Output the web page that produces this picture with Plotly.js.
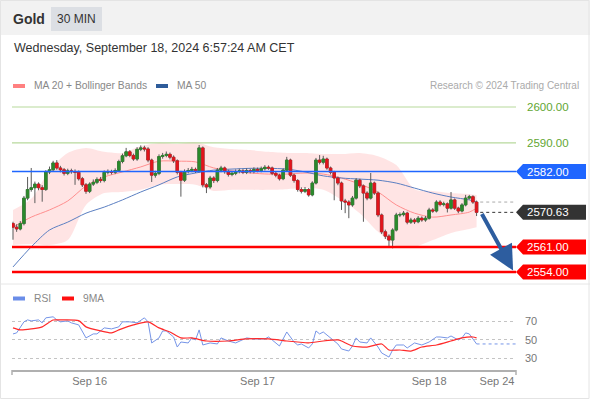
<!DOCTYPE html>
<html><head><meta charset="utf-8">
<script src="https://cdn.plot.ly/plotly-3.0.1.min.js"></script>
<style>html,body{margin:0;padding:0;background:#fff;}#chart{width:590px;height:400px;}</style>
</head><body><div id="chart"></div>
<script>
// ---- data (30-min candles, Gold) ----
const openP = [2567.5,2566.5,2566.0,2567.5,2574.6,2577.0,2577.5,2578.5,2577.5,2577.0,
2581.9,2582.5,2584.4,2583.0,2582.5,2581.5,2582.2,2582.0,2581.8,2580.0,
2578.3,2576.5,2578.5,2579.0,2579.8,2579.5,2581.8,2582.0,2581.8,2582.3,
2584.8,2586.4,2587.5,2586.5,2585.5,2588.2,2588.6,2588.3,2585.2,2581.0,
2581.5,2586.2,2586.5,2586.8,2586.0,2585.0,2581.8,2579.6,2582.0,2582.3,
2582.6,2582.2,2588.6,2578.3,2577.7,2580.2,2579.5,2582.4,2583.0,2582.0,
2581.2,2581.5,2582.0,2582.2,2581.8,2582.3,2582.0,2582.6,2582.3,2582.8,
2583.2,2583.0,2581.5,2581.0,2580.0,2582.4,2585.2,2581.0,2579.5,2577.0,
2576.5,2577.0,2575.5,2578.8,2585.2,2584.6,2585.5,2583.0,2581.8,2580.2,
2578.8,2573.8,2573.5,2572.7,2574.6,2579.6,2578.0,2576.0,2574.6,2578.8,
2576.0,2569.9,2565.2,2564.0,2562.9,2565.7,2569.9,2570.0,2570.4,2567.9,
2568.5,2568.0,2569.0,2568.5,2569.0,2571.3,2571.0,2573.5,2572.8,2573.0,
2571.8,2574.1,2571.8,2571.0,2572.7,2574.6,2575.0,2573.5];
const highP = [2568.0,2567.3,2568.2,2575.2,2580.5,2583.0,2579.2,2579.0,2578.2,2582.4,
2583.4,2585.0,2585.2,2583.6,2583.0,2582.8,2582.8,2582.6,2582.3,2580.5,
2578.8,2579.0,2579.8,2580.4,2580.5,2582.3,2582.6,2582.5,2582.9,2585.3,
2587.0,2588.6,2588.0,2587.0,2588.8,2589.3,2589.2,2588.8,2585.6,2582.2,
2586.8,2587.2,2587.6,2587.3,2586.5,2585.4,2582.2,2582.6,2583.0,2583.3,
2583.1,2589.4,2589.0,2578.8,2580.8,2580.7,2583.0,2583.6,2583.4,2582.5,
2582.1,2582.6,2582.8,2582.7,2582.9,2582.8,2583.2,2583.1,2583.4,2583.8,
2583.7,2583.4,2582.0,2581.4,2582.9,2586.1,2585.6,2581.4,2579.9,2577.6,
2577.7,2577.4,2579.3,2585.8,2586.6,2586.4,2585.9,2583.4,2582.2,2580.6,
2579.2,2574.4,2574.0,2575.2,2580.2,2580.0,2578.4,2576.5,2581.6,2579.2,
2576.4,2570.3,2565.8,2564.5,2566.2,2570.5,2570.6,2571.0,2570.8,2569.1,
2569.0,2569.6,2569.5,2569.6,2571.9,2571.8,2574.0,2574.0,2573.6,2573.4,
2576.3,2574.5,2572.2,2573.2,2575.5,2575.5,2575.4,2573.9];
const lowP = [2563.0,2565.2,2565.6,2567.0,2574.0,2576.4,2573.2,2576.8,2573.6,2576.6,
2581.3,2582.0,2582.5,2581.8,2580.9,2581.0,2581.4,2578.3,2579.5,2577.7,
2575.8,2576.0,2578.0,2578.5,2578.9,2579.0,2581.2,2581.2,2581.3,2582.0,
2584.3,2586.0,2586.0,2585.0,2585.0,2587.7,2587.6,2584.6,2579.1,2580.3,
2581.0,2585.6,2586.0,2585.4,2584.4,2581.2,2575.0,2579.1,2581.5,2581.8,
2581.6,2581.7,2577.6,2576.0,2577.2,2578.8,2579.0,2581.8,2581.4,2580.6,
2580.7,2581.0,2581.5,2581.3,2581.3,2581.5,2581.5,2581.8,2581.8,2582.3,
2582.5,2581.0,2580.4,2579.5,2579.6,2582.0,2580.5,2578.9,2576.4,2575.9,
2576.0,2575.0,2575.1,2578.4,2584.0,2584.0,2582.5,2581.2,2574.0,2578.2,
2571.3,2570.4,2569.0,2572.2,2574.2,2577.4,2568.0,2574.0,2574.2,2575.5,
2569.3,2564.6,2563.2,2561.0,2560.6,2565.3,2569.3,2569.5,2567.3,2567.4,
2567.4,2567.6,2568.0,2568.0,2568.6,2570.5,2570.6,2572.3,2572.3,2570.6,
2571.4,2571.3,2570.4,2570.6,2572.3,2574.2,2573.0,2569.6];
const closeP = [2566.5,2566.0,2567.5,2574.6,2577.0,2577.5,2578.5,2577.5,2577.0,2581.9,
2582.5,2584.4,2583.0,2582.5,2581.5,2582.2,2582.0,2581.8,2580.0,2578.3,
2576.5,2578.5,2579.0,2579.8,2579.5,2581.8,2582.0,2581.8,2582.3,2584.8,
2586.4,2587.5,2586.5,2585.5,2588.2,2588.6,2588.3,2585.2,2581.0,2581.5,
2586.2,2586.5,2586.8,2586.0,2585.0,2581.8,2579.6,2582.0,2582.3,2582.6,
2582.2,2588.6,2578.3,2577.7,2580.2,2579.5,2582.4,2583.0,2582.0,2581.2,
2581.5,2582.0,2582.2,2581.8,2582.3,2582.0,2582.6,2582.3,2582.8,2583.2,
2583.0,2581.5,2581.0,2580.0,2582.4,2585.2,2581.0,2579.5,2577.0,2576.5,
2577.0,2575.5,2578.8,2585.2,2584.6,2585.5,2583.0,2581.8,2580.2,2578.8,
2573.8,2573.5,2572.7,2574.6,2579.6,2578.0,2576.0,2574.6,2578.8,2576.0,
2569.9,2565.2,2564.0,2562.9,2565.7,2569.9,2570.0,2570.4,2567.9,2568.5,
2568.0,2569.0,2568.5,2569.0,2571.3,2571.0,2573.5,2572.8,2573.0,2571.8,
2574.1,2571.8,2571.0,2572.7,2574.6,2575.0,2573.5,2570.63];

// indicator samples (candle index -> value)
const bandIdx = [0,5,10,15,20,25,30,35,40,45,50,55,60,65,70,75,80,85,90,95,100,105,110,115,120,125,127];
const ma50 = [2555.4,2561.0,2565.7,2567.9,2570.4,2572.1,2574.1,2576.3,2578.3,2580.5,2581.6,2582.4,2582.7,2582.9,2582.9,2582.7,2581.9,2580.8,2580.2,2579.9,2579.6,2578.8,2577.4,2576.0,2574.9,2574.1,2573.5];
const ma20 = [2566.5,2569.3,2571.3,2573.8,2578.0,2580.5,2581.9,2583.3,2584.9,2584.9,2584.7,2583.0,2582.2,2581.6,2581.3,2581.3,2581.6,2581.3,2580.2,2578.5,2576.3,2572.7,2570.4,2569.3,2569.9,2570.7,2571.8];
const bbUpper = [2571.3,2574.4,2582.4,2587.2,2588.6,2587.5,2587.2,2589.1,2590.0,2589.7,2590.2,2588.8,2588.3,2588.0,2587.5,2587.2,2587.2,2586.9,2586.9,2587.2,2586.3,2583.8,2577.1,2576.6,2576.0,2575.7,2575.5];
const bbLower = [2561.5,2561.8,2561.5,2562.9,2572.7,2576.0,2576.3,2576.9,2578.3,2578.5,2578.3,2576.6,2576.9,2576.9,2576.9,2577.1,2577.4,2576.9,2574.1,2570.4,2565.2,2561.2,2561.0,2562.9,2564.9,2566.0,2566.5];

const rsiIdx = [0,1,3,4,5,7,8,9,11,12,13,15,16,18,20,22,23,25,27,29,30,32,34,36,37,38,40,41,42,44,45,46,48,49,50,51,52,54,56,57,59,61,64,66,69,70,71,73,75,77,78,79,81,82,83,84,85,87,89,90,92,93,94,95,97,98,100,101,103,104,105,107,108,110,112,114,116,117,119,120,122,123,124,125,127];
const rsiVal = [56.5,57.6,69.5,71.6,70.5,71.6,68.4,73.8,74.9,71.6,69.5,70.5,68.4,66.2,52.2,56.5,56.5,63.0,61.9,64.1,69.5,69.5,68.4,73.8,69.5,46.8,52.2,59.7,59.7,53.2,42.4,47.8,46.8,52.2,50.0,60.8,44.6,46.8,45.7,52.2,48.9,46.8,52.2,51.1,51.1,53.2,50.0,43.5,58.6,47.8,44.6,45.7,41.4,45.7,59.7,56.5,58.6,52.2,45.7,40.3,38.1,43.5,52.2,47.8,46.8,52.2,42.4,36.0,31.6,39.2,44.6,44.6,41.4,46.8,44.6,47.8,53.2,53.2,52.2,54.3,50.0,52.2,57.6,56.5,45.7];
const ma9Idx = [0,2,5,8,11,13,18,20,24,27,29,33,37,40,43,46,49,53,59,64,70,75,78,81,85,89,90,93,97,101,103,106,109,112,116,120,123,126,127];
const ma9Val = [63.0,60.8,61.9,64.1,71.5,71.5,70.8,64.1,59.7,57.6,60.8,66.2,69.5,63.0,58.6,52.2,52.2,48.9,48.9,51.1,51.1,48.9,47.8,46.8,48.9,50.0,48.9,43.5,42.4,45.7,39.2,39.2,38.1,42.4,44.6,48.9,52.2,53.2,52.2];

const levelPrices = [2600, 2590, 2582, 2561, 2554];
const lastPrice = 2570.63;
const targetPrice = 2554;
const tickIdx = [21, 67, 114, 132.6];
const tickText = ['Sep 16', 'Sep 17', 'Sep 18', 'Sep 24'];
const rsiTicks = [30, 50, 70];

// ---- geometry helpers ----
const W = 590, H = 400;
const px = x => x / W;
const py = y => 1 - y / H;
const X0 = 12, X1 = 516;
const xRange = [-0.27, 137.8];
const yRange = [2550.93, 2603.35];
const y2Range = [17.7, 87.6];
const FONT = 'Liberation Sans, Arial, sans-serif';

const idx = closeP.map((_, i) => i);
const bodyHigh = openP.map((o, i) => Math.max(o, closeP[i]));
const bodyLow = openP.map((o, i) => Math.min(o, closeP[i]));
const N = closeP.length;

const GREEN = '#2b8a2b', RED = '#e3141b';
const traces = [
  {x: bandIdx, y: bbLower, xaxis: 'x', yaxis: 'y', mode: 'lines', line: {width: 0, shape: 'spline', smoothing: 0.8}, hoverinfo: 'skip'},
  {x: bandIdx, y: bbUpper, xaxis: 'x', yaxis: 'y', mode: 'lines', fill: 'tonexty', fillcolor: 'rgba(255,120,120,0.2)', line: {width: 0, shape: 'spline', smoothing: 0.8}, hoverinfo: 'skip'},
  {x: bandIdx, y: ma20, xaxis: 'x', yaxis: 'y', mode: 'lines', line: {color: '#ff8f8f', width: 1, shape: 'spline', smoothing: 0.8}},
  {x: bandIdx, y: ma50, xaxis: 'x', yaxis: 'y', mode: 'lines', line: {color: '#5b7fc2', width: 1, shape: 'spline', smoothing: 0.8}},
  {type: 'candlestick', x: idx, open: openP, high: highP, low: lowP, close: closeP, xaxis: 'x', yaxis: 'y3', whiskerwidth: 0,
   increasing: {line: {color: '#5a5a5a', width: 1}, fillcolor: '#5a5a5a'},
   decreasing: {line: {color: '#5a5a5a', width: 1}, fillcolor: '#5a5a5a'}},
  {type: 'candlestick', x: idx, open: openP, high: bodyHigh, low: bodyLow, close: closeP, xaxis: 'x', yaxis: 'y3', whiskerwidth: 0,
   increasing: {line: {color: GREEN, width: 0.6}, fillcolor: GREEN},
   decreasing: {line: {color: RED, width: 0.6}, fillcolor: RED}},
  {x: rsiIdx, y: rsiVal, xaxis: 'x2', yaxis: 'y2', mode: 'lines', line: {color: '#7695e8', width: 1}},
  {x: [rsiIdx[rsiIdx.length - 1], xRange[1]], y: [rsiVal[rsiVal.length - 1], rsiVal[rsiVal.length - 1]], xaxis: 'x2', yaxis: 'y2', mode: 'lines', line: {color: '#7695e8', width: 1, dash: 'dot'}},
  {x: ma9Idx, y: ma9Val, xaxis: 'x2', yaxis: 'y2', mode: 'lines', line: {color: '#ff2a2a', width: 1.2, shape: 'spline', smoothing: 0.6}}
];

const shapes = [];
const annotations = [];
// header
shapes.push({type: 'rect', xref: 'paper', yref: 'paper', x0: 0, x1: 1, y0: py(35), y1: 1, fillcolor: '#f2f2f2', line: {width: 0}, layer: 'below'});
shapes.push({type: 'rect', xref: 'paper', yref: 'paper', x0: px(51), x1: px(102), y0: py(31), y1: py(7), fillcolor: '#dcdfe4', line: {width: 0}, layer: 'below'});
// panel separator and frame
shapes.push({type: 'line', xref: 'paper', yref: 'paper', x0: 0, x1: 1, y0: py(284), y1: py(284), line: {color: '#e6e6e6', width: 1}});
shapes.push({type: 'rect', xref: 'paper', yref: 'paper', x0: px(0.5), x1: px(589), y0: py(398.5), y1: py(0.5), line: {color: '#e4e4e4', width: 1}});
// axis end ticks
[X0, X1].forEach(xx => shapes.push({type: 'line', xref: 'paper', yref: 'paper', x0: px(xx), x1: px(xx), y0: py(370), y1: py(375), line: {color: '#b0b0b0', width: 1.5}}));

annotations.push({xref: 'paper', yref: 'paper', x: px(11), y: py(19), xanchor: 'left', yanchor: 'middle', text: '<b>Gold</b>', showarrow: false, font: {family: FONT, size: 14, color: '#333'}});
annotations.push({xref: 'paper', yref: 'paper', x: px(76.5), y: py(19), xanchor: 'center', yanchor: 'middle', text: '30 MIN', showarrow: false, font: {family: FONT, size: 12, color: '#333'}});
annotations.push({xref: 'paper', yref: 'paper', x: px(12), y: py(48), xanchor: 'left', yanchor: 'middle', text: 'Wednesday, September 18, 2024 6:57:24 AM CET', showarrow: false, font: {family: FONT, size: 12.5, color: '#333'}});

// legends
const legendItems = [
  {x: 13, y: 86, color: '#ff8080', text: 'MA 20 + Bollinger Bands'},
  {x: 156, y: 86, color: '#2e5c9a', text: 'MA 50'},
  {x: 13, y: 298.5, color: '#6a8de8', text: 'RSI'},
  {x: 62, y: 298.5, color: '#ff1010', text: '9MA'}
];
legendItems.forEach(it => {
  shapes.push({type: 'rect', xref: 'paper', yref: 'paper', x0: px(it.x), x1: px(it.x + 12), y0: py(it.y + 2), y1: py(it.y - 2), fillcolor: it.color, line: {width: 0}});
  annotations.push({xref: 'paper', yref: 'paper', x: px(it.x + 19), y: py(it.y), xanchor: 'left', yanchor: 'middle', text: it.text, showarrow: false, font: {family: FONT, size: 10.3, color: '#888'}});
});
annotations.push({xref: 'paper', yref: 'paper', x: px(581), y: py(86), xanchor: 'right', yanchor: 'middle', text: 'Research © 2024 Trading Central', showarrow: false, font: {family: FONT, size: 10, color: '#aaa'}});

// price levels
const levelStyle = [
  {line: '#b7d99c', w: 1.2, tag: null, txt: '#62a632'},
  {line: '#b7d99c', w: 1.2, tag: null, txt: '#62a632'},
  {line: '#1f66ff', w: 1.5, tag: '#1f66ff', txt: '#fff'},
  {line: '#ff0000', w: 2.5, tag: '#ff0000', txt: '#fff'},
  {line: '#ff0000', w: 2.5, tag: '#ff0000', txt: '#fff'}
];
const half = 7.5 / 3.587;
function tag(p, color) {
  const xt = px(516), xb = px(523), xe = px(586);
  shapes.push({type: 'path', xref: 'paper', yref: 'y', path: `M ${xt},${p} L ${xb},${p + half} L ${xe},${p + half} L ${xe},${p - half} L ${xb},${p - half} Z`, fillcolor: color, line: {width: 0}});
}
levelPrices.forEach((p, k) => {
  const s = levelStyle[k];
  shapes.push({type: 'line', xref: 'paper', yref: 'y', x0: px(X0), x1: px(X1), y0: p, y1: p, line: {color: s.line, width: s.w}});
  if (s.tag) tag(p, s.tag);
  annotations.push({xref: 'paper', yref: 'y', x: px(525), y: p, xanchor: 'left', yanchor: 'middle', text: p.toFixed(2), showarrow: false, font: {family: FONT, size: 11.5, color: s.txt}});
});
// last price
shapes.push({type: 'line', xref: 'x', yref: 'y', x0: N - 1 + 1, x1: xRange[1], y0: lastPrice, y1: lastPrice, line: {color: '#333', width: 1, dash: 'dot'}});
shapes.push({type: 'line', xref: 'x', yref: 'y', x0: N - 1 + 1, x1: xRange[1], y0: ma50[ma50.length - 1], y1: ma50[ma50.length - 1], line: {color: '#aaa', width: 1, dash: 'dot'}});
tag(lastPrice, '#333333');
annotations.push({xref: 'paper', yref: 'y', x: px(525), y: lastPrice, xanchor: 'left', yanchor: 'middle', text: lastPrice.toFixed(2), showarrow: false, font: {family: FONT, size: 11.5, color: '#fff'}});

// forecast arrow
annotations.push({xref: 'x', yref: 'y', x: 137, y: targetPrice + 0.4, ax: -32, ay: -58, text: '', showarrow: true, arrowhead: 2, arrowsize: 1.25, arrowwidth: 4, arrowcolor: '#2d5d9f'});

const layout = {
  width: W, height: H, margin: {l: 0, r: 0, t: 0, b: 0},
  paper_bgcolor: '#fff', plot_bgcolor: 'rgba(0,0,0,0)',
  showlegend: false, hovermode: false,
  font: {family: FONT},
  boxgap: 0.3, boxgroupgap: 0,
  xaxis: {domain: [px(X0), px(X1)], range: xRange, anchor: 'y', visible: false, rangeslider: {visible: false}, fixedrange: true},
  yaxis: {domain: [py(283), py(95)], range: yRange, visible: false, fixedrange: true},
  yaxis3: {overlaying: 'y', range: yRange, visible: false, fixedrange: true},
  xaxis2: {domain: [px(X0), px(X1)], range: xRange, anchor: 'y2', showline: true, linecolor: '#b0b0b0', linewidth: 2,
    tickmode: 'array', tickvals: tickIdx, ticktext: tickText, ticks: '', showgrid: false, zeroline: false,
    tickfont: {family: FONT, size: 11, color: '#777'}, rangeslider: {visible: false}},
  yaxis2: {domain: [py(370), py(305)], range: y2Range, anchor: 'x2', side: 'right', tickmode: 'array', tickvals: rsiTicks,
    showgrid: true, gridcolor: '#c4c4c4', griddash: 'dot', gridwidth: 1, zeroline: false, showline: false, ticks: '',
    ticklabelstandoff: 8, tickfont: {family: FONT, size: 11, color: '#777'}},
  shapes: shapes,
  annotations: annotations
};
Plotly.newPlot('chart', traces, layout, {staticPlot: true, displayModeBar: false});
</script></body></html>
